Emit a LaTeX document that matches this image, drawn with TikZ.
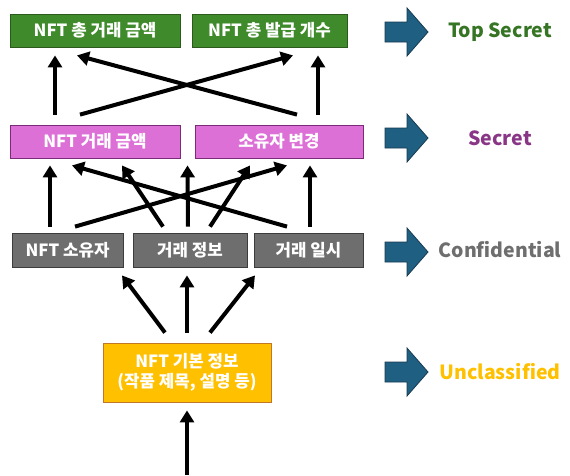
\documentclass[tikz,border=0pt]{standalone}
\usepackage{fontspec}
\setmainfont{Noto Sans CJK KR}
\usepackage{tikz}
\usetikzlibrary{arrows.meta,calc}
\definecolor{topgreen}{HTML}{3F8A2A}
\definecolor{topgreenline}{HTML}{2B5A1C}
\definecolor{secretpink}{HTML}{DC70D6}
\definecolor{secretline}{HTML}{7A2C78}
\definecolor{confgray}{HTML}{6E6E6E}
\definecolor{confline}{HTML}{3C3C3C}
\definecolor{unclyellow}{HTML}{FFC000}
\definecolor{unclline}{HTML}{C0772A}
\definecolor{levelblue}{HTML}{1F5F82}
\definecolor{levelline}{HTML}{173A50}

\begin{document}
\begin{tikzpicture}[x=1pt,y=-1pt,font=\bfseries\fontsize{16.8}{20}\selectfont,
    box/.style={draw,line width=0.8pt,text=white,minimum height=33pt,inner sep=0pt,align=center},
    up/.style={line width=4pt,-{Triangle[width=14pt,length=12pt]}},
    level/.style={font=\bfseries\fontsize{19.5}{22}\selectfont}]
  \useasboundingbox (0,0) rectangle (570,475);

  % Boxes, one row per level
  \node[box,fill=topgreen,draw=topgreenline,minimum width=170pt] (tsum) at (95,30.5) {NFT 총 거래 금액};
  \node[box,fill=topgreen,draw=topgreenline,minimum width=155pt] (tcount) at (269.5,30.5) {NFT 총 발급 개수};
  \node[box,fill=secretpink,draw=secretline,minimum width=170pt] (price) at (95,141.5) {NFT 거래 금액};
  \node[box,fill=secretpink,draw=secretline,minimum width=168pt] (owner) at (279,141.5) {소유자 변경};
  \node[box,fill=confgray,draw=confline,minimum width=111pt,minimum height=34pt] (holder) at (67.5,250) {NFT 소유자};
  \node[box,fill=confgray,draw=confline,minimum width=114pt,minimum height=34pt] (trade) at (190,250) {거래 정보};
  \node[box,fill=confgray,draw=confline,minimum width=109pt,minimum height=34pt] (date) at (308.5,250) {거래 일시};
  \node[box,fill=unclyellow,draw=unclline,minimum width=168pt,minimum height=59pt] (basic) at (187,372.5)
    {NFT 기본 정보\\(작품 제목, 설명 등)};

  \coordinate (gap) at ($(price.south east)!0.5!(owner.south west)+(0,7)$);
  \coordinate (src) at (187,475);

  % Secret -> Top Secret
  \draw[up] ([xshift=-40pt,yshift=10pt]price.north) -- ([xshift=-40pt,yshift=-8pt]tsum.south);
  \draw[up] ([xshift=-15pt,yshift=10pt]price.north) -- ([xshift=23.5pt,yshift=-8pt]tcount.south);
  \draw[up] ([xshift=18pt,yshift=10pt]owner.north) -- ([xshift=-18pt,yshift=-8pt]tsum.south);
  \draw[up] ([xshift=39pt,yshift=10pt]owner.north) -- ([xshift=48.5pt,yshift=-8pt]tcount.south);

  % Confidential -> Secret
  \draw[up] ([xshift=-17.5pt,yshift=6pt]holder.north) -- ([xshift=-45pt,yshift=-7pt]price.south);
  \draw[up] ([xshift=7.5pt,yshift=6pt]holder.north) -- ([xshift=8pt,yshift=-7pt]owner.south);
  \draw[up] ([xshift=-27pt,yshift=6pt]trade.north) -- ([xshift=27pt,yshift=-7pt]price.south);
  \draw[up] ([xshift=-2pt,yshift=6pt]trade.north) -- (gap);
  \draw[up] ([xshift=20pt,yshift=6pt]trade.north) -- ([xshift=-29pt,yshift=-7pt]owner.south);
  \draw[up] ([xshift=-21.5pt,yshift=6pt]date.north) -- ([xshift=-23pt,yshift=-7pt]price.south);
  \draw[up] ([xshift=1.5pt,yshift=6pt]date.north) -- ([xshift=31pt,yshift=-7pt]owner.south);

  % Unclassified -> Confidential
  \draw[up] ([xshift=-22pt,yshift=10pt]basic.north) -- ([xshift=54.5pt,yshift=-8pt]holder.south);
  \draw[up] ([yshift=10pt]basic.north) -- ([xshift=-3pt,yshift=-8pt]trade.south);
  \draw[up] ([xshift=23pt,yshift=10pt]basic.north) -- ([xshift=-53.5pt,yshift=-8pt]date.south);
  \draw[up] (src) -- ([yshift=-8pt]basic.south);

  % Level markers
  \foreach \y in {32,138,252,372}{
    \filldraw[fill=levelblue,draw=levelline,line width=0.8pt]
      (385,\y-10) -- (407,\y-10) -- (407,\y-24) -- (428,\y) -- (407,\y+24)
      -- (407,\y+10) -- (385,\y+10) -- cycle;
  }
  \node[level,text=topgreen!85!black] (lts) at (500,32) {Top Secret};
  \node[level,text=secretline!85!secretpink] (ls) at (500,138) {Secret};
  \node[level,text=confgray] (lc) at (500,250) {Confidential};
  \node[level,text=unclyellow] (lu) at (500,372) {Unclassified};
\end{tikzpicture}
\end{document}
